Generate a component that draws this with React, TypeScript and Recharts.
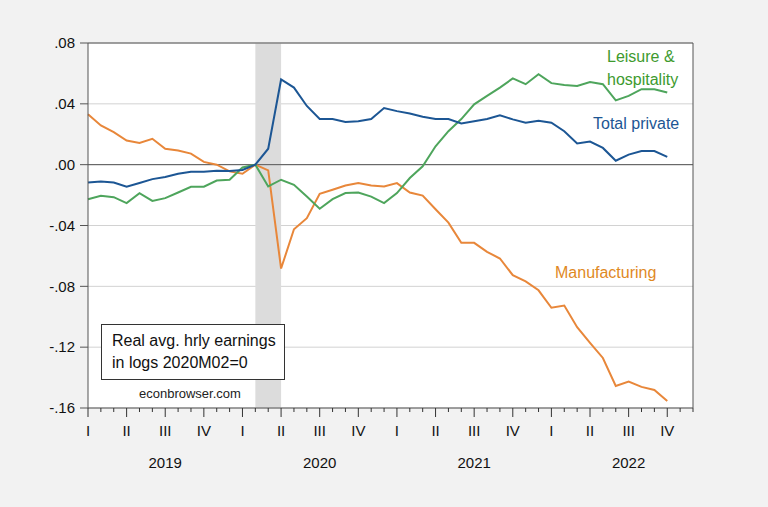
import React from "react";
import {
  LineChart,
  Line,
  XAxis,
  YAxis,
  CartesianGrid,
  ReferenceArea,
  ReferenceLine,
} from "recharts";

// monthly, 2019M01 .. 2022M10, log real avg hourly earnings, 2020M02 = 0
const years = [2019, 2020, 2021, 2022];
const quarterLabels = ["I", "II", "III", "IV"];

const totalPrivate = [
  -0.0117, -0.011, -0.0117, -0.0145, -0.012, -0.0095, -0.0081, -0.006, -0.0046,
  -0.0046, -0.004, -0.0042, -0.0035, 0, 0.0105, 0.056, 0.0507, 0.0386, 0.03,
  0.03, 0.028, 0.0285, 0.03, 0.0372, 0.0352, 0.0337, 0.0315, 0.03, 0.03, 0.0271,
  0.0285, 0.03, 0.0324, 0.0298, 0.0276, 0.0289, 0.0276, 0.022, 0.0139, 0.0152,
  0.011, 0.0026, 0.0066, 0.009, 0.009, 0.0051,
];

const leisure = [
  -0.0227, -0.0205, -0.0214, -0.0253, -0.0187, -0.0238, -0.022, -0.0183,
  -0.0145, -0.0145, -0.0104, -0.0099, -0.0018, 0, -0.0143, -0.0099, -0.0132,
  -0.021, -0.029, -0.0227, -0.0187, -0.0183, -0.021, -0.0253, -0.0187, -0.0088,
  -0.0011, 0.0121, 0.022, 0.03, 0.0397, 0.0452, 0.0507, 0.0567, 0.0529, 0.0595,
  0.0536, 0.0524, 0.0518, 0.0544, 0.0529, 0.0423, 0.0452, 0.0496, 0.0496,
  0.0474,
];

const manufacturing = [
  0.0331, 0.0258, 0.0214, 0.0159, 0.0143, 0.017, 0.0104, 0.0093, 0.0073, 0.0018,
  0, -0.0044, -0.006, 0, -0.0038, -0.0683, -0.0425, -0.0352, -0.0192, -0.0165,
  -0.0137, -0.0121, -0.0137, -0.0143, -0.0121, -0.0183, -0.0203, -0.0293,
  -0.0381, -0.0514, -0.0514, -0.0573, -0.0617, -0.0727, -0.0767, -0.0826,
  -0.0941, -0.0926, -0.1069, -0.1172, -0.1271, -0.1455, -0.1426, -0.1461,
  -0.1481, -0.1554,
];

const yTicks = [-0.16, -0.12, -0.08, -0.04, 0, 0.04, 0.08];

const data = totalPrivate.map((v, i) => ({
  idx: i,
  total: v,
  leisure: leisure[i],
  manuf: manufacturing[i],
}));

const monthTicks = Array.from({ length: years.length * 12 }, (_, i) => i);

const fmtY = (v: number) => v.toFixed(2).replace("0.", ".");

const MonthTick = (props: any) => {
  const { x, y, payload } = props;
  const m = payload.value;
  const isQ = m % 3 === 0;
  return (
    <g>
      <line x1={x} x2={x} y1={y} y2={y + (isQ ? 9 : 4)} stroke="#333" />
      {isQ && m < years.length * 12 && (
        <text x={x} y={y + 28} textAnchor="middle" fontSize={15} fill="#111">
          {quarterLabels[(m / 3) % 4]}
        </text>
      )}
      {m % 12 === 6 && (
        <text x={x} y={y + 60} textAnchor="middle" fontSize={15} fill="#111">
          {years[Math.floor(m / 12)]}
        </text>
      )}
    </g>
  );
};

export default function App() {
  return (
    <div
      style={{
        position: "absolute",
        left: 0,
        top: 0,
        width: 768,
        height: 507,
        background: "#f2f2f2",
        fontFamily: "'Liberation Sans', Arial, sans-serif",
      }}
    >
      <LineChart
        width={768}
        height={507}
        data={data}
        margin={{ top: 43, right: 75, bottom: 0, left: 0 }}
      >
        <CartesianGrid vertical={false} stroke="#d2d2d2" fill="#ffffff" />
        <ReferenceArea x1={13} x2={15} fill="#dcdcdc" fillOpacity={1} stroke="none" />
        <XAxis
          type="number"
          dataKey="idx"
          domain={[0, 47]}
          ticks={monthTicks}
          interval={0}
          height={99}
          tickLine={false}
          tickSize={0}
          tickMargin={0}
          axisLine={{ stroke: "#555" }}
          tick={<MonthTick />}
        />
        <YAxis
          type="number"
          domain={[-0.16, 0.08]}
          ticks={yTicks}
          width={88}
          tickFormatter={fmtY}
          tickSize={8}
          tickMargin={5}
          tickLine={{ stroke: "#555" }}
          axisLine={{ stroke: "#555" }}
          tick={{ fontSize: 15, fill: "#111" }}
          interval={0}
        />
        <ReferenceLine y={0} stroke="#555" strokeWidth={1} />
        <ReferenceLine y={0.08} stroke="#555" strokeWidth={1} />
        <ReferenceLine x={47} stroke="#555" strokeWidth={1} />
        <Line
          dataKey="manuf"
          stroke="#e8873a"
          strokeWidth={2}
          dot={false}
          isAnimationActive={false}
        />
        <Line
          dataKey="leisure"
          stroke="#4ea55c"
          strokeWidth={2}
          dot={false}
          isAnimationActive={false}
        />
        <Line
          dataKey="total"
          stroke="#1c5694"
          strokeWidth={2}
          dot={false}
          isAnimationActive={false}
        />
      </LineChart>

      <div
        style={{
          position: "absolute",
          left: 607,
          top: 45,
          fontSize: 16,
          lineHeight: "23px",
          color: "#3d9a2e",
        }}
      >
        Leisure &amp;
        <br />
        hospitality
      </div>
      <div
        style={{
          position: "absolute",
          left: 593,
          top: 114,
          fontSize: 16,
          lineHeight: "20px",
          color: "#1c5694",
        }}
      >
        Total private
      </div>
      <div
        style={{
          position: "absolute",
          left: 555,
          top: 263,
          fontSize: 16,
          lineHeight: "20px",
          color: "#e0891f",
        }}
      >
        Manufacturing
      </div>
      <div
        style={{
          position: "absolute",
          left: 101,
          top: 324,
          width: 184,
          height: 56,
          border: "1px solid #333",
          background: "#fff",
          boxSizing: "border-box",
          padding: "5px 0 0 10px",
          fontSize: 16,
          lineHeight: "22px",
          color: "#111",
        }}
      >
        Real avg. hrly earnings
        <br />
        in logs 2020M02=0
      </div>
      <div
        style={{
          position: "absolute",
          left: 139,
          top: 386,
          fontSize: 13,
          lineHeight: "16px",
          color: "#222",
        }}
      >
        econbrowser.com
      </div>
    </div>
  );
}
